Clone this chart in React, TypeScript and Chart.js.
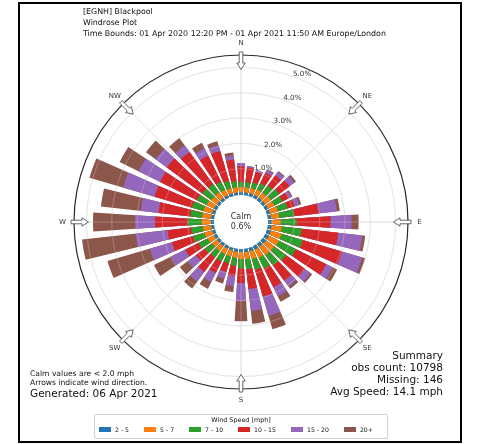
import React, { useEffect, useRef } from 'react';
import { Chart, registerables } from 'chart.js';

Chart.register(...registerables);

// ---------- data ----------
const DIRECTION_DEG = [0, 10, 20, 30, 40, 50, 60, 70, 80, 90, 100, 110, 120, 130, 140, 150, 160, 170,
  180, 190, 200, 210, 220, 230, 240, 250, 260, 270, 280, 290, 300, 310, 320, 330, 340, 350];

const SPEED_BINS = ['2 - 5', '5 - 7', '7 - 10', '10 - 15', '15 - 20', '20+'];

// frequency (%) per direction for each speed bin
const SPEED_2_5 = [0.07, 0.07, 0.08, 0.08, 0.08, 0.08, 0.08, 0.09, 0.09, 0.10, 0.11, 0.12, 0.12, 0.12, 0.11, 0.11, 0.10, 0.09,
  0.08, 0.08, 0.07, 0.07, 0.07, 0.07, 0.08, 0.08, 0.08, 0.08, 0.08, 0.08, 0.08, 0.07, 0.07, 0.07, 0.07, 0.07];
const SPEED_5_7 = [0.20, 0.20, 0.20, 0.24, 0.24, 0.28, 0.28, 0.32, 0.32, 0.36, 0.40, 0.44, 0.44, 0.40, 0.40, 0.36, 0.32, 0.28,
  0.28, 0.24, 0.24, 0.24, 0.24, 0.24, 0.28, 0.32, 0.32, 0.36, 0.36, 0.36, 0.32, 0.28, 0.28, 0.24, 0.20, 0.20];
const SPEED_7_10 = [0.20, 0.20, 0.24, 0.28, 0.36, 0.40, 0.36, 0.40, 0.59, 0.63, 0.79, 0.87, 0.75, 0.59, 0.51, 0.47, 0.44, 0.40,
  0.36, 0.32, 0.28, 0.32, 0.32, 0.36, 0.40, 0.47, 0.47, 0.55, 0.47, 0.47, 0.44, 0.44, 0.40, 0.36, 0.32, 0.24];
const SPEED_10_15 = [0.63, 0.59, 0.44, 0.47, 0.51, 0.51, 0.28, 0.28, 0.99, 1.34, 1.46, 1.62, 1.34, 0.91, 0.75, 0.83, 1.11, 0.79,
  0.59, 0.40, 0.36, 0.51, 0.71, 0.44, 0.59, 0.87, 0.95, 1.30, 1.26, 1.54, 1.62, 1.74, 1.58, 1.15, 1.23, 0.87];
const SPEED_15_20 = [0.12, 0.06, 0.08, 0.12, 0.16, 0.24, 0.12, 0.20, 0.71, 0.83, 0.95, 0.83, 0.28, 0.28, 0.28, 0.40, 0.79, 0.87,
  0.71, 0.40, 0.28, 0.40, 0.47, 0.40, 0.63, 0.91, 1.26, 0.79, 0.71, 1.30, 0.95, 0.55, 0.32, 0.32, 0.24, 0.16];
const SPEED_20_PLUS = [0.00, 0.00, 0.00, 0.04, 0.04, 0.08, 0.04, 0.08, 0.12, 0.28, 0.12, 0.12, 0.20, 0.08, 0.12, 0.24, 0.55, 0.51,
  0.79, 0.24, 0.20, 0.30, 0.34, 0.38, 0.75, 1.74, 2.13, 1.66, 1.58, 1.38, 0.83, 0.47, 0.36, 0.24, 0.16, 0.12];

const SERIES = [SPEED_2_5, SPEED_5_7, SPEED_7_10, SPEED_10_15, SPEED_15_20, SPEED_20_PLUS];
const SPEED_COLORS = ['#1f77b4', '#ff7f0e', '#2ca02c', '#d62728', '#9467bd', '#8c564b'];

const RING_VALUES = [1, 2, 3, 4, 5];
const RING_LABELS = ['1.0%', '2.0%', '3.0%', '4.0%', '5.0%'];
const COMPASS_LABELS = ['N', 'NE', 'E', 'SE', 'S', 'SW', 'W', 'NW'];
const COMPASS_DEG = [0, 45, 90, 135, 180, 225, 270, 315];

const CALM_LABEL = 'Calm';
const CALM_VALUE = '0.6%';
const TITLE_LINES = ['[EGNH] Blackpool', 'Windrose Plot',
  'Time Bounds: 01 Apr 2020 12:20 PM - 01 Apr 2021 11:50 AM Europe/London'];
const SUMMARY_LINES = ['Summary', 'obs count: 10798', 'Missing: 146', 'Avg Speed: 14.1 mph'];
const NOTE_LINES = ['Calm values are < 2.0 mph', 'Arrows indicate wind direction.'];
const GENERATED = 'Generated: 06 Apr 2021';
const LEGEND_TITLE = 'Wind Speed [mph]';

// ---------- scale / style ----------
const R_MIN = -1.107;
const R_MAX = 5.49;
const BAR_DEG = 7.4;
const GAP_DEG = 2.6;
const FONT = '"DejaVu Sans", sans-serif';

const rad = (d: number) => (d * Math.PI) / 180;

const windPlugin = {
  id: 'windDecor',
  beforeDatasetsDraw(chart: any) {
    const s = chart.scales.r;
    const ctx = chart.ctx;
    const cx = s.xCenter, cy = s.yCenter, R = s.drawingArea;
    ctx.save();
    ctx.strokeStyle = '#d4d4d4';
    ctx.lineWidth = 0.8;
    COMPASS_DEG.forEach((a) => {
      const t = rad(a);
      ctx.beginPath();
      ctx.moveTo(cx, cy);
      ctx.lineTo(cx + R * Math.sin(t), cy - R * Math.cos(t));
      ctx.stroke();
    });
    ctx.fillStyle = '#333';
    ctx.font = `7.2px ${FONT}`;
    ctx.textAlign = 'center';
    ctx.textBaseline = 'middle';
    const t = rad(22.5);
    RING_VALUES.forEach((v, i) => {
      const d = s.getDistanceFromCenterForValue(v) + 5;
      ctx.fillText(RING_LABELS[i], cx + d * Math.sin(t), cy - d * Math.cos(t));
    });
    ctx.restore();
  },
  afterDatasetsDraw(chart: any) {
    const s = chart.scales.r;
    const ctx = chart.ctx;
    const cx = s.xCenter, cy = s.yCenter, R = s.drawingArea;
    ctx.save();
    // faint grid over bars
    ctx.strokeStyle = 'rgba(235,235,235,0.35)';
    ctx.lineWidth = 0.8;
    RING_VALUES.forEach((v) => {
      ctx.beginPath();
      ctx.arc(cx, cy, s.getDistanceFromCenterForValue(v), 0, Math.PI * 2);
      ctx.stroke();
    });
    COMPASS_DEG.forEach((a) => {
      const t = rad(a);
      ctx.beginPath();
      ctx.moveTo(cx, cy);
      ctx.lineTo(cx + R * Math.sin(t), cy - R * Math.cos(t));
      ctx.stroke();
    });
    // calm circle
    const calmR = s.getDistanceFromCenterForValue(0) - 1;
    ctx.beginPath();
    ctx.arc(cx, cy, calmR, 0, Math.PI * 2);
    ctx.fillStyle = '#fff';
    ctx.fill();
    ctx.fillStyle = '#333';
    ctx.font = `8px ${FONT}`;
    ctx.textAlign = 'center';
    ctx.textBaseline = 'middle';
    ctx.fillText(CALM_LABEL, cx, cy - 5.5);
    ctx.fillText(CALM_VALUE, cx, cy + 5);
    // arrows + compass labels
    COMPASS_DEG.forEach((a, i) => {
      const t = rad(a);
      const sn = Math.sin(t), cs = Math.cos(t);
      const P = (u: number, w: number) => [cx + u * sn + w * cs, cy - u * cs + w * sn];
      const pts = [
        P(R + 3, -1.8), P(R - 8, -1.8), P(R - 8, -4.2), P(R - 14.5, 0),
        P(R - 8, 4.2), P(R - 8, 1.8), P(R + 3, 1.8),
      ];
      ctx.beginPath();
      pts.forEach(([x, y], k) => (k === 0 ? ctx.moveTo(x, y) : ctx.lineTo(x, y)));
      ctx.closePath();
      ctx.fillStyle = '#fff';
      ctx.fill();
      ctx.strokeStyle = '#555';
      ctx.lineWidth = 0.9;
      ctx.stroke();
      const [lx, ly] = P(R + 11.5, 0);
      ctx.fillStyle = '#333';
      ctx.font = `7px ${FONT}`;
      ctx.fillText(COMPASS_LABELS[i], lx, ly);
    });
    ctx.restore();
  },
};

export default function App() {
  const ref = useRef<HTMLCanvasElement>(null);
  useEffect(() => {
    const labels: string[] = [];
    DIRECTION_DEG.forEach((d) => { labels.push(`${d}°`); labels.push(''); });
    const datasets = SERIES.map((_, k) => {
      const cum = DIRECTION_DEG.map((_, i) => SERIES.slice(0, k + 1).reduce((acc, arr) => acc + arr[i], 0));
      const data: number[] = [];
      cum.forEach((v) => { data.push(v); data.push(R_MIN); });
      return {
        label: SPEED_BINS[k],
        data,
        backgroundColor: SPEED_COLORS[k],
        borderWidth: 0,
        angle: (c: any) => (c.dataIndex % 2 === 0 ? BAR_DEG : GAP_DEG),
      };
    });
    const chart = new Chart(ref.current as HTMLCanvasElement, {
      type: 'polarArea',
      data: { labels, datasets } as any,
      options: {
        responsive: false,
        animation: false,
        events: [],
        layout: { padding: { left: 74, right: 69, top: 55, bottom: 55 } },
        plugins: { legend: { display: false }, tooltip: { enabled: false } },
        scales: {
          r: {
            min: R_MIN,
            max: R_MAX,
            startAngle: -BAR_DEG / 2,
            ticks: { display: false },
            angleLines: { display: false },
            pointLabels: { display: false },
            grid: {
              circular: true,
              color: (c: any) => (c.tick && c.tick.value === R_MAX ? '#2a2a2a' : '#d9d9d9'),
              lineWidth: (c: any) => (c.tick && c.tick.value === R_MAX ? 1.2 : 0.8),
            },
            afterBuildTicks: (scale: any) => {
              scale.ticks = [...RING_VALUES, R_MAX].map((v) => ({ value: v }));
            },
          } as any,
        },
      } as any,
      plugins: [windPlugin],
    });
    return () => chart.destroy();
  }, []);

  const abs = (o: any) => ({ position: 'absolute' as const, ...o });
  return (
    <div style={abs({ left: 0, top: 0, width: 477, height: 444, background: '#fff', overflow: 'hidden', fontFamily: FONT, color: '#111' })}>
      <canvas ref={ref} width={477} height={444} style={abs({ left: 0, top: 0, width: 477, height: 444 })} />
      <div style={abs({ left: 83, top: 6, fontSize: 7.9, lineHeight: '11px', whiteSpace: 'pre' })}>
        {TITLE_LINES.map((l) => <div key={l}>{l}</div>)}
      </div>
      <div style={abs({ right: 477 - 443, top: 349, fontSize: 10.5, lineHeight: '12px', textAlign: 'right', whiteSpace: 'pre' })}>
        {SUMMARY_LINES.map((l) => <div key={l}>{l}</div>)}
      </div>
      <div style={abs({ left: 30, top: 370, fontSize: 7.6, lineHeight: '8.5px', whiteSpace: 'pre' })}>
        {NOTE_LINES.map((l) => <div key={l}>{l}</div>)}
      </div>
      <div style={abs({ left: 30, top: 387, fontSize: 10.5, lineHeight: '13px', whiteSpace: 'pre' })}>{GENERATED}</div>
      <div style={abs({ left: 94, top: 414, width: 294, height: 25, boxSizing: 'border-box', border: '1px solid #d0d0d0', borderRadius: 2 })}>
        <div style={{ textAlign: 'center', fontSize: 6.4, lineHeight: '9px', marginTop: 1 }}>{LEGEND_TITLE}</div>
        <div style={{ display: 'flex', justifyContent: 'center', alignItems: 'center', gap: 15, fontSize: 6.2, lineHeight: '9px', paddingRight: 10 }}>
          {SPEED_BINS.map((b, i) => (
            <div key={b} style={{ display: 'flex', alignItems: 'center' }}>
              <span style={{ display: 'inline-block', width: 12, height: 5, background: SPEED_COLORS[i], marginRight: 4 }} />
              <span>{b}</span>
            </div>
          ))}
        </div>
      </div>
      <div style={abs({ left: 18, top: 2, width: 444, height: 441, boxSizing: 'border-box', border: '2px solid #000', pointerEvents: 'none' })} />
    </div>
  );
}
